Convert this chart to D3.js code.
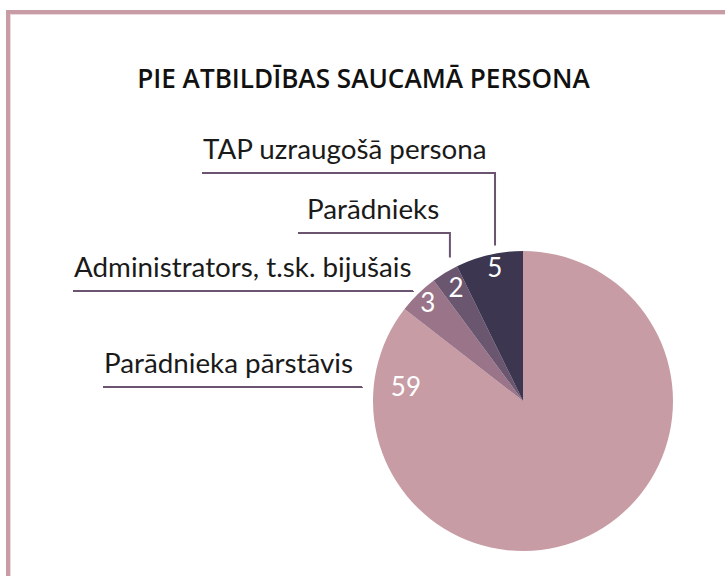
<!DOCTYPE html>
<html lang="lv">

<head>
    <meta charset="UTF-8">
    <title>Pie atbildības saucamā persona</title>
    <script src="https://cdn.jsdelivr.net/npm/d3@7"></script>
    <style>
        * {
            margin: 0;
            padding: 0;
        }

        body {
            background: #fff;
        }

        text {
            font-family: Lato, "Noto Sans", sans-serif;
        }
    </style>
</head>

<body>
    <script>
        // dati
        const categories = ["Parādnieka pārstāvis", "Administrators, t.sk. bijušais", "Parādnieks", "TAP uzraugošā persona"];
        const values = [59, 3, 2, 5];
        const colors = ["#c89ca5", "#9a7489", "#6b5670", "#3c3650"];
        const title = "PIE ATBILDĪBAS SAUCAMĀ PERSONA";

        const width = 725;
        const height = 576;
        const cx = 523, cy = 401, R = 150;

        // leader layout: label left x, line y, anchor angle (deg) / radius on pie
        const leaders = [
            { x: 103, lineY: 387, angle: 275, r: 161.6 },
            { x: 73, lineY: 291, angle: 315, r: 155.6 },
            { x: 298, lineY: 233, angle: 333, r: 161 },
            { x: 202, lineY: 173, angle: 349.8, r: 158 }
        ];
        const labelTargetWidth = [252, 339, 131, 282];
        // value label positions: angle (deg), radius
        const valuePos = [[277, 118], [316, 137], [329.5, 132], [348, 136]];

        const svg = d3.select("body").append("svg")
            .attr("width", width)
            .attr("height", height);

        // rāmis
        svg.append("rect")
            .attr("x", 8).attr("y", 12)
            .attr("width", width + 20).attr("height", height + 20)
            .attr("fill", "none")
            .attr("stroke", "#c89ca5")
            .attr("stroke-width", 4);
        svg.append("rect")
            .attr("x", 10.5).attr("y", 14.5)
            .attr("width", width + 20).attr("height", height + 20)
            .attr("fill", "none")
            .attr("stroke", "#ecd9dd")
            .attr("stroke-width", 1);

        // virsraksts
        const t = svg.append("text")
            .attr("x", 363.5).attr("y", 88)
            .attr("text-anchor", "middle")
            .style("font-family", "'Open Sans', Lato, sans-serif")
            .attr("font-weight", 600)
            .attr("font-size", 22)
            .attr("fill", "#111")
            .text(title);
        const tw = t.node().getComputedTextLength();
        t.attr("font-size", 22 * 453 / tw);

        const pie = d3.pie().sort(null).value(d => d);
        const arcs = pie(values);
        const arc = d3.arc().innerRadius(0).outerRadius(R);

        const g = svg.append("g").attr("transform", `translate(${cx},${cy})`);
        g.selectAll("path")
            .data(arcs)
            .join("path")
            .attr("d", arc)
            .attr("fill", (d, i) => colors[i]);

        const polar = (deg, r) => {
            const a = deg * Math.PI / 180;
            return [r * Math.sin(a), -r * Math.cos(a)];
        };

        g.selectAll("text.val")
            .data(arcs)
            .join("text")
            .attr("class", "val")
            .attr("x", (d, i) => polar(valuePos[i][0], valuePos[i][1])[0])
            .attr("y", (d, i) => polar(valuePos[i][0], valuePos[i][1])[1])
            .attr("dy", "0.36em")
            .attr("text-anchor", "middle")
            .attr("font-size", 26)
            .attr("fill", "#fff")
            .text(d => d.data);

        // kategoriju etiķetes ar līnijām
        const lab = svg.append("g");
        const labTexts = lab.selectAll("text")
            .data(categories)
            .join("text")
            .attr("x", (d, i) => leaders[i].x + (i === 2 ? 9 : 1))
            .attr("y", (d, i) => leaders[i].lineY - 14)
            .attr("font-size", 22)
            .attr("fill", "#1a1a1a")
            .text(d => d);
        let scale = 0;
        labTexts.each(function (d, i) {
            scale += labelTargetWidth[i] / this.getComputedTextLength();
        });
        labTexts.attr("font-size", 22 * scale / categories.length);

        lab.selectAll("path")
            .data(categories)
            .join("path")
            .attr("d", (d, i) => {
                const L = leaders[i];
                const p = polar(L.angle, L.r);
                const ax = cx + p[0], ay = cy + p[1];
                return `M${L.x},${L.lineY}H${ax}V${ay}`;
            })
            .attr("fill", "none")
            .attr("stroke", "#6b5470")
            .attr("stroke-width", 2);
    </script>
</body>

</html>
